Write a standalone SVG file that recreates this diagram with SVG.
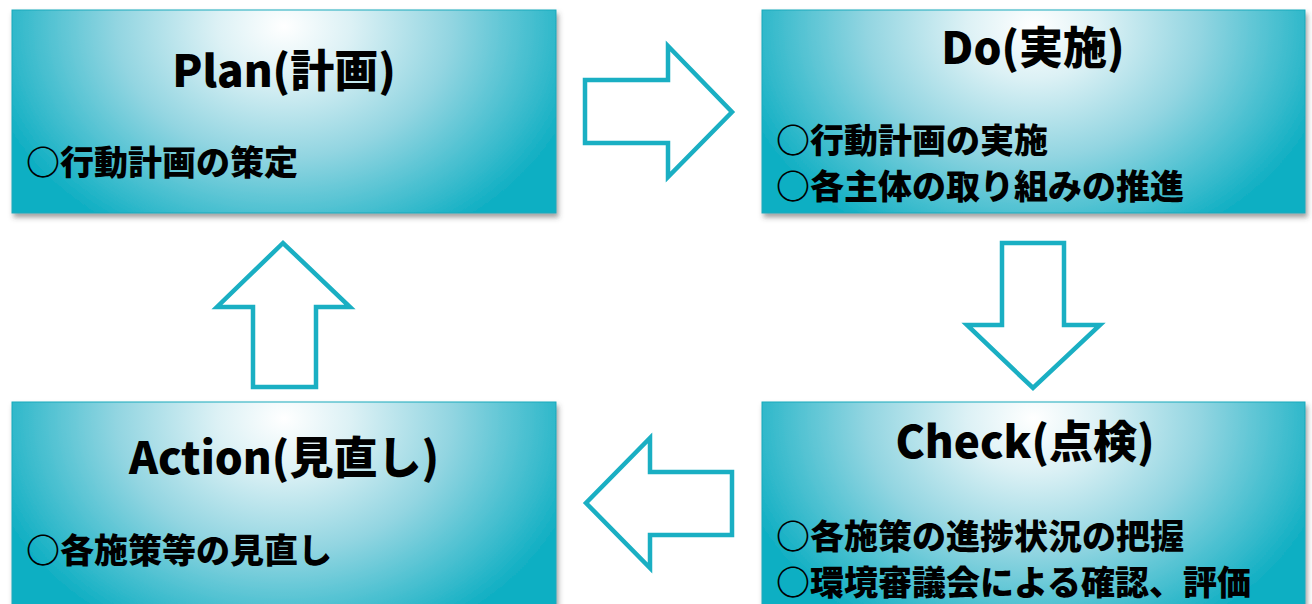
<svg xmlns="http://www.w3.org/2000/svg" width="1312" height="604" viewBox="0 0 1312 604">
<style>
.box{stroke:#1aa9bb;stroke-width:1;filter:url(#sh)}
.title{font-family:"Noto Sans CJK JP","Noto Sans",sans-serif;font-weight:900;font-size:44px;fill:#000;text-anchor:middle}
.body{font-family:"Noto Sans CJK JP","Noto Sans",sans-serif;font-weight:900;font-size:34px;fill:#000}
.arrow{fill:#fff;stroke:#1aafc3;stroke-width:4.5;stroke-linejoin:miter}
</style>
<defs>
<radialGradient id="g" cx="0.5" cy="0.08" r="0.56" fx="0.5" fy="0.08" gradientTransform="translate(0.5,0.08) scale(1,2.1) translate(-0.5,-0.08)">
<stop offset="0" stop-color="#ffffff"/>
<stop offset="0.22" stop-color="#dcf1f5"/>
<stop offset="0.55" stop-color="#92d5e1"/>
<stop offset="1" stop-color="#10afc3"/>
</radialGradient>
<filter id="sh" x="-5%" y="-5%" width="112%" height="120%">
<feDropShadow dx="2" dy="4" stdDeviation="2.5" flood-color="#444" flood-opacity="0.5"/>
</filter>
</defs>
<rect width="1312" height="604" fill="#fff"/>
<g id="plan">
<rect class="box" x="12" y="10" width="544" height="203" fill="url(#g)"/>
<text class="title" x="284" y="87">Plan(計画)</text>
<text class="body" x="26" y="175">○行動計画の策定</text>
</g>
<g id="do">
<rect class="box" x="762" y="10" width="543" height="203" fill="url(#g)"/>
<text class="title" x="1033" y="64">Do(実施)</text>
<text class="body"><tspan x="776" y="153">○行動計画の実施</tspan><tspan x="776" y="199">○各主体の取り組みの推進</tspan></text>
</g>
<g id="check">
<rect class="box" x="762" y="402" width="543" height="206" fill="url(#g)"/>
<text class="title" x="1025" y="458">Check(点検)</text>
<text class="body"><tspan x="776" y="549">○各施策の進捗状況の把握</tspan><tspan x="776" y="595">○環境審議会による確認、評価</tspan></text>
</g>
<g id="action">
<rect class="box" x="12" y="402" width="544" height="206" fill="url(#g)"/>
<text class="title" x="284" y="474">Action(見直し)</text>
<text class="body" x="26" y="563">○各施策等の見直し</text>
</g>
<g id="connectors">
<polygon class="arrow" points="585,80 668,80 668,46 732,112 668,177 668,143 585,143"/>
<polygon class="arrow" points="1002,243 1064,243 1064,325 1100,325 1033,388 967,325 1002,325"/>
<polygon class="arrow" points="732,472 650,472 650,438 586,503 650,568 650,535 732,535"/>
<polygon class="arrow" points="253,387 316,387 316,307 350,307 283,243 217,307 253,307"/>
</g>
</svg>
